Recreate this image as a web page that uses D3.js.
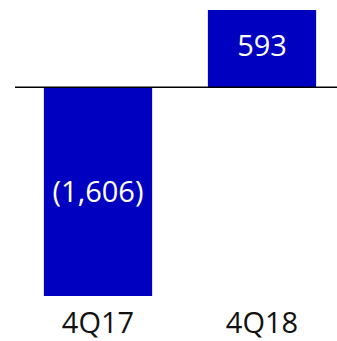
<!DOCTYPE html>
<html>
<head>
<meta charset="utf-8">
<script src="https://cdn.jsdelivr.net/npm/d3@7"></script>
<style>
  html, body { margin: 0; padding: 0; background: #fff; }
  svg { display: block; }
</style>
</head>
<body>
<svg id="chart" width="337" height="341"></svg>
<script>
// Quarterly values (negative shown in parentheses)
const quarters = ["4Q17", "4Q18"];
const values = [-1606, 593];

const svg = d3.select("#chart");
const barColor = "#0000c0";
const font = "'Open Sans', 'Noto Sans', sans-serif";

const x = d3.scaleBand()
  .domain(quarters)
  .range([16, 344])
  .paddingInner(0.34)
  .paddingOuter(0.17);

const y = d3.scaleLinear()
  .domain([-1606, 593])
  .range([296, 10]);

const fmt = v => v < 0 ? "(" + d3.format(",")(-v) + ")" : d3.format(",")(v);

const data = quarters.map((q, i) => ({ q, v: values[i] }));

svg.selectAll("rect.bar")
  .data(data)
  .join("rect")
  .attr("class", "bar")
  .attr("x", d => x(d.q))
  .attr("width", x.bandwidth())
  .attr("y", d => Math.min(y(d.v), y(0)))
  .attr("height", d => Math.abs(y(d.v) - y(0)))
  .attr("fill", barColor);

// zero line
svg.append("line")
  .attr("x1", 15).attr("x2", 337)
  .attr("y1", y(0)).attr("y2", y(0))
  .attr("stroke", "#000")
  .attr("stroke-width", 1.5);

// value labels inside bars
svg.selectAll("text.val")
  .data(data)
  .join("text")
  .attr("class", "val")
  .attr("x", d => x(d.q) + x.bandwidth() / 2)
  .attr("y", d => d.v < 0 ? 201.5 : (y(d.v) + y(0)) / 2 + 7.5)
  .attr("text-anchor", "middle")
  .attr("fill", "#fff")
  .attr("font-family", font)
  .attr("font-size", 29)
  .text(d => fmt(d.v));

// category labels
const xAxis = d3.axisBottom(x).tickSize(0).tickPadding(0);
const gx = svg.append("g").attr("transform", "translate(0,333)").call(xAxis);
gx.select(".domain").remove();
gx.selectAll("text")
  .attr("font-family", font)
  .attr("font-size", 29)
  .attr("fill", "#111")
  .attr("dy", 0);
</script>
</body>
</html>
